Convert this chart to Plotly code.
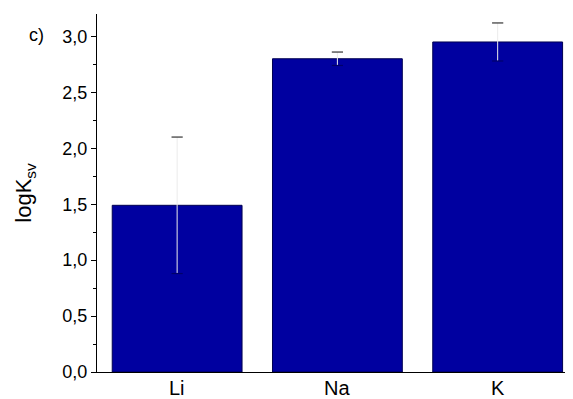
import plotly.graph_objects as go

# Data
ions = ['Li', 'Na', 'K']
log_ksv = [1.49, 2.80, 2.95]
log_ksv_err = [0.61, 0.06, 0.17]

caps_hi = [v + e for v, e in zip(log_ksv, log_ksv_err)]
caps_lo = [v - e for v, e in zip(log_ksv, log_ksv_err)]

fig = go.Figure()

# Bars with faint error lines
fig.add_trace(go.Bar(
    x=ions, y=log_ksv,
    width=0.81,
    marker=dict(color='#0000a0', line=dict(color='#000050', width=1)),
    error_y=dict(type='data', array=log_ksv_err, color='#ebebeb', thickness=1, width=0),
    showlegend=False
))

# Darker caps on the error bars
for caps, col in [(caps_hi, '#333333'), (caps_lo, '#00006a')]:
    fig.add_trace(go.Scatter(
        x=ions, y=caps, mode='markers',
        marker=dict(symbol='line-ew', size=8, line=dict(color=col, width=1.2)),
        showlegend=False, hoverinfo='skip'
    ))

# page body has an 8px margin, so the figure is 8px smaller than the window
fig.update_layout(
    width=565, height=391,
    margin=dict(l=89, r=0, t=6, b=27),
    plot_bgcolor='white', paper_bgcolor='white',
    separators=', ',
    font=dict(family='Liberation Sans, Arial, sans-serif', color='black'),
)

# category labels sit very close to the axis, so draw them as annotations
fig.update_xaxes(
    range=[-0.5, 2.47],
    showline=True, linecolor='black', linewidth=1.3,
    ticks='', showgrid=False, showticklabels=False,
)
for ion in ions:
    fig.add_annotation(
        text=ion, x=ion, xref='x', y=0, yref='paper',
        yanchor='top', yshift=-3, showarrow=False,
        font=dict(size=20)
    )

fig.update_yaxes(
    range=[0, 3.2],
    tickvals=[0, 0.5, 1.0, 1.5, 2.0, 2.5, 3.0],
    tickformat='.1f',
    showline=True, linecolor='black', linewidth=1.3,
    ticks='outside', ticklen=5, tickcolor='black', tickwidth=1,
    minor=dict(tickvals=[0.25, 0.75, 1.25, 1.75, 2.25, 2.75], ticks='outside', ticklen=3, tickcolor='black'),
    showgrid=False, zeroline=False,
    tickfont=dict(size=18),
    title=dict(text='logK<sub>sv</sub>', font=dict(size=22), standoff=24),
)

fig.add_annotation(
    text='c)', xref='paper', yref='paper',
    x=-0.128, y=0.94, xanchor='center', yanchor='middle',
    showarrow=False, font=dict(size=18)
)

fig.write_html("out.html")
